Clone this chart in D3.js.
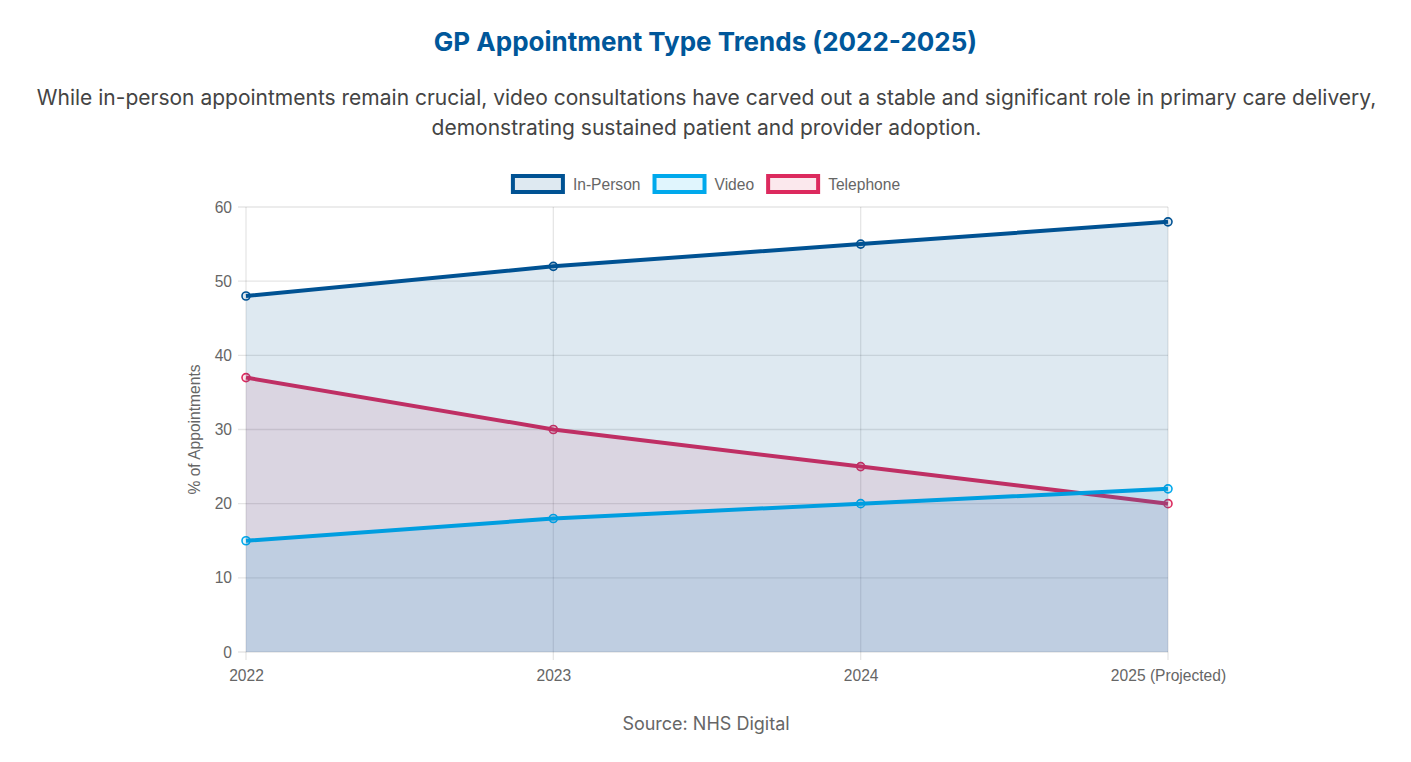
<!DOCTYPE html>
<html>
<head>
<meta charset="utf-8">
<script src="https://cdn.jsdelivr.net/npm/d3@7"></script>
<style>
  html, body { margin: 0; padding: 0; background: #fff; }
  svg { display: block; }
</style>
</head>
<body>
<svg id="chart" width="1411" height="762"></svg>
<script>
const categories = ["2022", "2023", "2024", "2025 (Projected)"];
const inPerson = [48, 52, 55, 58];
const video = [15, 18, 20, 22];
const telephone = [37, 30, 25, 20];
const yTicks = [0, 10, 20, 30, 40, 50, 60];

const series = [
  { name: "In-Person", values: inPerson, stroke: "#005293", fill: "rgba(0,82,147,0.13)" },
  { name: "Video", values: video, stroke: "#00A9EC", fill: "rgba(0,169,240,0.12)" },
  { name: "Telephone", values: telephone, stroke: "#DC2A5E", fill: "rgba(218,41,90,0.11)" }
];

const svg = d3.select("#chart");
const W = 1411, H = 762;
const m = { left: 246, right: 1168, top: 207, bottom: 652 };
const axisFont = "'Liberation Sans', Arial, sans-serif";

const x = d3.scalePoint().domain(categories).range([m.left, m.right]);
const y = d3.scaleLinear().domain([0, 60]).range([m.bottom, m.top]);

// Title + subtitle
svg.append("text").attr("x", W / 2).attr("y", 51).attr("text-anchor", "middle")
  .style("font-family", "Inter, sans-serif").style("font-weight", 700).style("font-size", "26px")
  .style("fill", "#00579a").text("GP Appointment Type Trends (2022-2025)");
const sub = ["While in-person appointments remain crucial, video consultations have carved out a stable and significant role in primary care delivery,",
  "demonstrating sustained patient and provider adoption."];
sub.forEach((s, i) => {
  svg.append("text").attr("x", W / 2 + 1).attr("y", 105 + i * 30).attr("text-anchor", "middle")
    .style("font-family", "Inter, sans-serif").style("font-size", "21px").style("fill", "#444").text(s);
});

// Grid
const grid = svg.append("g");
yTicks.forEach(t => {
  grid.append("line").attr("x1", m.left - 8).attr("x2", m.right).attr("y1", y(t)).attr("y2", y(t))
    .attr("stroke", "rgba(0,0,0,0.1)").attr("stroke-width", 1.3);
});
categories.forEach(c => {
  grid.append("line").attr("x1", x(c)).attr("x2", x(c)).attr("y1", m.top).attr("y2", m.bottom + 8)
    .attr("stroke", "rgba(0,0,0,0.1)").attr("stroke-width", 1.3);
});

// Y tick labels
const yAxis = d3.axisLeft(y).tickValues(yTicks).tickSize(0).tickPadding(14);
const gy = svg.append("g").attr("transform", `translate(${m.left},0)`).call(yAxis);
gy.select(".domain").remove();
gy.selectAll("text").style("font-family", axisFont).style("font-size", "15.6px").style("fill", "#666");

const xAxis = d3.axisBottom(x).tickSize(0).tickPadding(18);
const gx = svg.append("g").attr("transform", `translate(0,${m.bottom})`).call(xAxis);
gx.select(".domain").remove();
gx.selectAll("text").style("font-family", axisFont).style("font-size", "15.6px").style("fill", "#666");

svg.append("text").attr("transform", `translate(200,${(m.top + m.bottom) / 2}) rotate(-90)`)
  .attr("text-anchor", "middle").style("font-family", axisFont).style("font-size", "15.6px")
  .style("fill", "#666").text("% of Appointments");

// Series, drawn last-to-first like chart.js
const area = d3.area().x((d, i) => x(categories[i])).y0(y(0)).y1(d => y(d));
const line = d3.line().x((d, i) => x(categories[i])).y(d => y(d));
series.slice().reverse().forEach(s => {
  svg.append("path").attr("d", area(s.values)).attr("fill", s.fill);
  svg.append("path").attr("d", line(s.values)).attr("fill", "none").attr("stroke", s.stroke)
    .attr("stroke-width", 4);
  svg.append("g").selectAll("circle").data(s.values).join("circle")
    .attr("cx", (d, i) => x(categories[i])).attr("cy", d => y(d)).attr("r", 4)
    .attr("fill", s.fill).attr("stroke", s.stroke).attr("stroke-width", 1.6);
});

// Legend
const lg = svg.append("g");
let lx = 0;
series.forEach(s => {
  const g = lg.append("g").attr("transform", `translate(${lx},0)`);
  g.append("rect").attr("x", 2).attr("y", 2).attr("width", 50).attr("height", 16)
    .attr("fill", s.fill).attr("stroke", s.stroke).attr("stroke-width", 4);
  const t = g.append("text").attr("x", 62).attr("y", 15.5).style("font-family", axisFont)
    .style("font-size", "15.6px").style("fill", "#666").text(s.name);
  const w = t.node().getComputedTextLength();
  lx += 62 + w + 12;
});
const totalW = lx - 12;
lg.attr("transform", `translate(${W / 2 - totalW / 2},174)`);

// Source
svg.append("text").attr("x", 706).attr("y", 730).attr("text-anchor", "middle")
  .style("font-family", "Inter, sans-serif").style("font-size", "18px").style("fill", "#666")
  .text("Source: NHS Digital");
</script>
</body>
</html>
